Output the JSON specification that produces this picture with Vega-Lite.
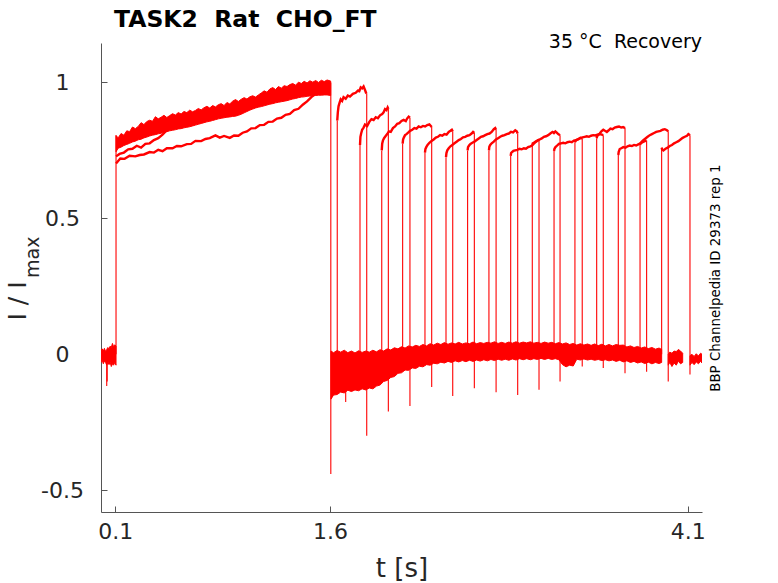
{
  "$schema": "https://vega.github.io/schema/vega-lite/v6.json",
  "width": 601,
  "height": 469,
  "autosize": {"type": "none"},
  "padding": {"left": 101, "top": 43, "right": 76, "bottom": 71},
  "background": "white",
  "config": {"view": {"stroke": null}, "font": "DejaVu Sans"},
  "datasets": {
    "bands": [
      {"seg": "pre", "t": 0.0, "v": -0.03, "v2": 0.015},
      {"seg": "pre", "t": 0.008, "v": -0.02, "v2": 0.02},
      {"seg": "pre", "t": 0.016, "v": -0.035, "v2": 0.012},
      {"seg": "pre", "t": 0.024, "v": -0.025, "v2": 0.022},
      {"seg": "pre", "t": 0.032, "v": -0.03, "v2": 0.01},
      {"seg": "pre", "t": 0.04, "v": -0.04, "v2": 0.018},
      {"seg": "pre", "t": 0.048, "v": -0.028, "v2": 0.025},
      {"seg": "pre", "t": 0.056, "v": -0.038, "v2": 0.02},
      {"seg": "pre", "t": 0.064, "v": -0.03, "v2": 0.03},
      {"seg": "pre", "t": 0.072, "v": -0.045, "v2": 0.025},
      {"seg": "pre", "t": 0.08, "v": -0.035, "v2": 0.04},
      {"seg": "pre", "t": 0.088, "v": -0.04, "v2": 0.028},
      {"seg": "pre", "t": 0.096, "v": -0.03, "v2": 0.035},
      {"seg": "pre", "t": 0.105, "v": -0.04, "v2": 0.03},

      {"seg": "p1", "t": 0.105, "v": 0.745, "v2": 0.805},
      {"seg": "p1", "t": 0.12, "v": 0.758, "v2": 0.796},
      {"seg": "p1", "t": 0.14, "v": 0.762, "v2": 0.812},
      {"seg": "p1", "t": 0.16, "v": 0.768, "v2": 0.806},
      {"seg": "p1", "t": 0.18, "v": 0.772, "v2": 0.822},
      {"seg": "p1", "t": 0.2, "v": 0.776, "v2": 0.819},
      {"seg": "p1", "t": 0.22, "v": 0.781, "v2": 0.836},
      {"seg": "p1", "t": 0.24, "v": 0.784, "v2": 0.83},
      {"seg": "p1", "t": 0.26, "v": 0.789, "v2": 0.838},
      {"seg": "p1", "t": 0.28, "v": 0.791, "v2": 0.852},
      {"seg": "p1", "t": 0.3, "v": 0.796, "v2": 0.845},
      {"seg": "p1", "t": 0.32, "v": 0.799, "v2": 0.856},
      {"seg": "p1", "t": 0.34, "v": 0.803, "v2": 0.861},
      {"seg": "p1", "t": 0.36, "v": 0.806, "v2": 0.857},
      {"seg": "p1", "t": 0.38, "v": 0.808, "v2": 0.874},
      {"seg": "p1", "t": 0.4, "v": 0.811, "v2": 0.866},
      {"seg": "p1", "t": 0.42, "v": 0.813, "v2": 0.872},
      {"seg": "p1", "t": 0.44, "v": 0.817, "v2": 0.879},
      {"seg": "p1", "t": 0.46, "v": 0.819, "v2": 0.871},
      {"seg": "p1", "t": 0.48, "v": 0.822, "v2": 0.878},
      {"seg": "p1", "t": 0.5, "v": 0.824, "v2": 0.885},
      {"seg": "p1", "t": 0.52, "v": 0.826, "v2": 0.88},
      {"seg": "p1", "t": 0.54, "v": 0.829, "v2": 0.889},
      {"seg": "p1", "t": 0.56, "v": 0.83, "v2": 0.884},
      {"seg": "p1", "t": 0.58, "v": 0.833, "v2": 0.893},
      {"seg": "p1", "t": 0.6, "v": 0.835, "v2": 0.889},
      {"seg": "p1", "t": 0.62, "v": 0.837, "v2": 0.898},
      {"seg": "p1", "t": 0.64, "v": 0.84, "v2": 0.892},
      {"seg": "p1", "t": 0.66, "v": 0.843, "v2": 0.897},
      {"seg": "p1", "t": 0.68, "v": 0.846, "v2": 0.904},
      {"seg": "p1", "t": 0.7, "v": 0.849, "v2": 0.899},
      {"seg": "p1", "t": 0.72, "v": 0.852, "v2": 0.907},
      {"seg": "p1", "t": 0.74, "v": 0.855, "v2": 0.912},
      {"seg": "p1", "t": 0.76, "v": 0.857, "v2": 0.906},
      {"seg": "p1", "t": 0.78, "v": 0.86, "v2": 0.915},
      {"seg": "p1", "t": 0.8, "v": 0.863, "v2": 0.91},
      {"seg": "p1", "t": 0.82, "v": 0.866, "v2": 0.918},
      {"seg": "p1", "t": 0.84, "v": 0.868, "v2": 0.922},
      {"seg": "p1", "t": 0.86, "v": 0.87, "v2": 0.915},
      {"seg": "p1", "t": 0.88, "v": 0.872, "v2": 0.926},
      {"seg": "p1", "t": 0.9, "v": 0.873, "v2": 0.921},
      {"seg": "p1", "t": 0.92, "v": 0.875, "v2": 0.931},
      {"seg": "p1", "t": 0.94, "v": 0.876, "v2": 0.937},
      {"seg": "p1", "t": 0.96, "v": 0.879, "v2": 0.93},
      {"seg": "p1", "t": 0.98, "v": 0.883, "v2": 0.938},
      {"seg": "p1", "t": 1.0, "v": 0.888, "v2": 0.944},
      {"seg": "p1", "t": 1.02, "v": 0.893, "v2": 0.939},
      {"seg": "p1", "t": 1.04, "v": 0.898, "v2": 0.947},
      {"seg": "p1", "t": 1.06, "v": 0.902, "v2": 0.951},
      {"seg": "p1", "t": 1.08, "v": 0.906, "v2": 0.946},
      {"seg": "p1", "t": 1.1, "v": 0.909, "v2": 0.954},
      {"seg": "p1", "t": 1.12, "v": 0.911, "v2": 0.961},
      {"seg": "p1", "t": 1.14, "v": 0.914, "v2": 0.969},
      {"seg": "p1", "t": 1.16, "v": 0.917, "v2": 0.964},
      {"seg": "p1", "t": 1.18, "v": 0.92, "v2": 0.976},
      {"seg": "p1", "t": 1.2, "v": 0.922, "v2": 0.981},
      {"seg": "p1", "t": 1.22, "v": 0.925, "v2": 0.974},
      {"seg": "p1", "t": 1.24, "v": 0.927, "v2": 0.985},
      {"seg": "p1", "t": 1.26, "v": 0.929, "v2": 0.979},
      {"seg": "p1", "t": 1.28, "v": 0.931, "v2": 0.988},
      {"seg": "p1", "t": 1.3, "v": 0.933, "v2": 0.985},
      {"seg": "p1", "t": 1.32, "v": 0.936, "v2": 0.992},
      {"seg": "p1", "t": 1.34, "v": 0.939, "v2": 0.996},
      {"seg": "p1", "t": 1.36, "v": 0.941, "v2": 0.99},
      {"seg": "p1", "t": 1.38, "v": 0.944, "v2": 1.001},
      {"seg": "p1", "t": 1.4, "v": 0.946, "v2": 0.996},
      {"seg": "p1", "t": 1.42, "v": 0.947, "v2": 1.004},
      {"seg": "p1", "t": 1.44, "v": 0.949, "v2": 0.998},
      {"seg": "p1", "t": 1.46, "v": 0.95, "v2": 1.006},
      {"seg": "p1", "t": 1.48, "v": 0.951, "v2": 1.001},
      {"seg": "p1", "t": 1.5, "v": 0.952, "v2": 1.007},
      {"seg": "p1", "t": 1.52, "v": 0.953, "v2": 1.0},
      {"seg": "p1", "t": 1.54, "v": 0.953, "v2": 1.008},
      {"seg": "p1", "t": 1.56, "v": 0.954, "v2": 1.003},
      {"seg": "p1", "t": 1.58, "v": 0.954, "v2": 1.009},
      {"seg": "p1", "t": 1.605, "v": 0.952, "v2": 1.005},

      {"seg": "post", "t": 1.607, "v": -0.165, "v2": 0.012},
      {"seg": "post", "t": 1.625, "v": -0.15, "v2": 0.006},
      {"seg": "post", "t": 1.65, "v": -0.148, "v2": 0.014},
      {"seg": "post", "t": 1.675, "v": -0.139, "v2": 0.008},
      {"seg": "post", "t": 1.7, "v": -0.142, "v2": 0.015},
      {"seg": "post", "t": 1.725, "v": -0.132, "v2": 0.006},
      {"seg": "post", "t": 1.75, "v": -0.137, "v2": 0.012},
      {"seg": "post", "t": 1.775, "v": -0.131, "v2": 0.005},
      {"seg": "post", "t": 1.8, "v": -0.134, "v2": 0.013},
      {"seg": "post", "t": 1.825, "v": -0.127, "v2": 0.007},
      {"seg": "post", "t": 1.85, "v": -0.131, "v2": 0.012},
      {"seg": "post", "t": 1.875, "v": -0.124, "v2": 0.008},
      {"seg": "post", "t": 1.9, "v": -0.127, "v2": 0.015},
      {"seg": "post", "t": 1.925, "v": -0.117, "v2": 0.009},
      {"seg": "post", "t": 1.95, "v": -0.113, "v2": 0.017},
      {"seg": "post", "t": 1.975, "v": -0.1, "v2": 0.012},
      {"seg": "post", "t": 2.0, "v": -0.096, "v2": 0.02},
      {"seg": "post", "t": 2.025, "v": -0.085, "v2": 0.016},
      {"seg": "post", "t": 2.05, "v": -0.082, "v2": 0.024},
      {"seg": "post", "t": 2.075, "v": -0.07, "v2": 0.02},
      {"seg": "post", "t": 2.1, "v": -0.068, "v2": 0.028},
      {"seg": "post", "t": 2.125, "v": -0.058, "v2": 0.023},
      {"seg": "post", "t": 2.15, "v": -0.059, "v2": 0.031},
      {"seg": "post", "t": 2.175, "v": -0.05, "v2": 0.027},
      {"seg": "post", "t": 2.2, "v": -0.052, "v2": 0.033},
      {"seg": "post", "t": 2.225, "v": -0.044, "v2": 0.029},
      {"seg": "post", "t": 2.25, "v": -0.046, "v2": 0.036},
      {"seg": "post", "t": 2.275, "v": -0.038, "v2": 0.031},
      {"seg": "post", "t": 2.3, "v": -0.04, "v2": 0.039},
      {"seg": "post", "t": 2.325, "v": -0.033, "v2": 0.034},
      {"seg": "post", "t": 2.35, "v": -0.035, "v2": 0.041},
      {"seg": "post", "t": 2.375, "v": -0.029, "v2": 0.036},
      {"seg": "post", "t": 2.4, "v": -0.032, "v2": 0.043},
      {"seg": "post", "t": 2.425, "v": -0.026, "v2": 0.037},
      {"seg": "post", "t": 2.45, "v": -0.03, "v2": 0.042},
      {"seg": "post", "t": 2.475, "v": -0.024, "v2": 0.038},
      {"seg": "post", "t": 2.5, "v": -0.028, "v2": 0.044},
      {"seg": "post", "t": 2.525, "v": -0.023, "v2": 0.038},
      {"seg": "post", "t": 2.55, "v": -0.027, "v2": 0.042},
      {"seg": "post", "t": 2.575, "v": -0.022, "v2": 0.039},
      {"seg": "post", "t": 2.6, "v": -0.026, "v2": 0.045},
      {"seg": "post", "t": 2.625, "v": -0.021, "v2": 0.039},
      {"seg": "post", "t": 2.65, "v": -0.025, "v2": 0.043},
      {"seg": "post", "t": 2.675, "v": -0.02, "v2": 0.04},
      {"seg": "post", "t": 2.7, "v": -0.024, "v2": 0.044},
      {"seg": "post", "t": 2.725, "v": -0.019, "v2": 0.041},
      {"seg": "post", "t": 2.75, "v": -0.023, "v2": 0.046},
      {"seg": "post", "t": 2.775, "v": -0.018, "v2": 0.04},
      {"seg": "post", "t": 2.8, "v": -0.022, "v2": 0.044},
      {"seg": "post", "t": 2.825, "v": -0.018, "v2": 0.04},
      {"seg": "post", "t": 2.85, "v": -0.022, "v2": 0.045},
      {"seg": "post", "t": 2.875, "v": -0.017, "v2": 0.041},
      {"seg": "post", "t": 2.9, "v": -0.021, "v2": 0.046},
      {"seg": "post", "t": 2.925, "v": -0.016, "v2": 0.041},
      {"seg": "post", "t": 2.95, "v": -0.02, "v2": 0.045},
      {"seg": "post", "t": 2.975, "v": -0.016, "v2": 0.042},
      {"seg": "post", "t": 3.0, "v": -0.02, "v2": 0.046},
      {"seg": "post", "t": 3.025, "v": -0.016, "v2": 0.041},
      {"seg": "post", "t": 3.05, "v": -0.019, "v2": 0.044},
      {"seg": "post", "t": 3.075, "v": -0.015, "v2": 0.04},
      {"seg": "post", "t": 3.1, "v": -0.019, "v2": 0.045},
      {"seg": "post", "t": 3.125, "v": -0.015, "v2": 0.041},
      {"seg": "post", "t": 3.15, "v": -0.019, "v2": 0.044},
      {"seg": "post", "t": 3.175, "v": -0.016, "v2": 0.039},
      {"seg": "post", "t": 3.2, "v": -0.02, "v2": 0.043},
      {"seg": "post", "t": 3.225, "v": -0.038, "v2": 0.038},
      {"seg": "post", "t": 3.25, "v": -0.046, "v2": 0.042},
      {"seg": "post", "t": 3.275, "v": -0.04, "v2": 0.036},
      {"seg": "post", "t": 3.3, "v": -0.043, "v2": 0.04},
      {"seg": "post", "t": 3.325, "v": -0.018, "v2": 0.034},
      {"seg": "post", "t": 3.35, "v": -0.021, "v2": 0.039},
      {"seg": "post", "t": 3.375, "v": -0.017, "v2": 0.034},
      {"seg": "post", "t": 3.4, "v": -0.021, "v2": 0.038},
      {"seg": "post", "t": 3.425, "v": -0.018, "v2": 0.033},
      {"seg": "post", "t": 3.45, "v": -0.022, "v2": 0.038},
      {"seg": "post", "t": 3.475, "v": -0.019, "v2": 0.032},
      {"seg": "post", "t": 3.5, "v": -0.023, "v2": 0.037},
      {"seg": "post", "t": 3.525, "v": -0.02, "v2": 0.031},
      {"seg": "post", "t": 3.55, "v": -0.024, "v2": 0.036},
      {"seg": "post", "t": 3.575, "v": -0.021, "v2": 0.031},
      {"seg": "post", "t": 3.6, "v": -0.026, "v2": 0.036},
      {"seg": "post", "t": 3.625, "v": -0.022, "v2": 0.033},
      {"seg": "post", "t": 3.65, "v": -0.028, "v2": 0.034},
      {"seg": "post", "t": 3.675, "v": -0.024, "v2": 0.027},
      {"seg": "post", "t": 3.7, "v": -0.03, "v2": 0.031},
      {"seg": "post", "t": 3.725, "v": -0.026, "v2": 0.025},
      {"seg": "post", "t": 3.75, "v": -0.032, "v2": 0.029},
      {"seg": "post", "t": 3.775, "v": -0.028, "v2": 0.023},
      {"seg": "post", "t": 3.8, "v": -0.034, "v2": 0.027},
      {"seg": "post", "t": 3.825, "v": -0.029, "v2": 0.021},
      {"seg": "post", "t": 3.85, "v": -0.035, "v2": 0.025},
      {"seg": "post", "t": 3.875, "v": -0.03, "v2": 0.019},
      {"seg": "post", "t": 3.9, "v": -0.034, "v2": 0.023},
      {"seg": "post", "t": 3.918, "v": -0.03, "v2": 0.018},

      {"seg": "tail15", "t": 3.964, "v": -0.04, "v2": 0.0},
      {"seg": "tail15", "t": 3.975, "v": -0.03, "v2": 0.008},
      {"seg": "tail15", "t": 3.99, "v": -0.045, "v2": 0.004},
      {"seg": "tail15", "t": 4.005, "v": -0.032, "v2": 0.012},
      {"seg": "tail15", "t": 4.02, "v": -0.04, "v2": 0.01},
      {"seg": "tail15", "t": 4.035, "v": -0.025, "v2": 0.018},
      {"seg": "tail15", "t": 4.05, "v": -0.035, "v2": 0.012},
      {"seg": "tail15", "t": 4.065, "v": -0.03, "v2": 0.004},

      {"seg": "tail16", "t": 4.116, "v": -0.04, "v2": -0.005},
      {"seg": "tail16", "t": 4.13, "v": -0.03, "v2": 0.0},
      {"seg": "tail16", "t": 4.145, "v": -0.038, "v2": -0.008},
      {"seg": "tail16", "t": 4.16, "v": -0.028, "v2": 0.002},
      {"seg": "tail16", "t": 4.175, "v": -0.035, "v2": -0.006},
      {"seg": "tail16", "t": 4.19, "v": -0.025, "v2": 0.004},
      {"seg": "tail16", "t": 4.2, "v": -0.032, "v2": 0.0}
    ],
    "traces": [
      {"id": "L1", "t": 0.105, "v": 0.728}, {"id": "L1", "t": 0.13, "v": 0.737}, {"id": "L1", "t": 0.16, "v": 0.742},
      {"id": "L1", "t": 0.19, "v": 0.754}, {"id": "L1", "t": 0.22, "v": 0.756}, {"id": "L1", "t": 0.25, "v": 0.767},
      {"id": "L1", "t": 0.28, "v": 0.76}, {"id": "L1", "t": 0.31, "v": 0.774}, {"id": "L1", "t": 0.34, "v": 0.776},
      {"id": "L1", "t": 0.37, "v": 0.788}, {"id": "L1", "t": 0.4, "v": 0.795}, {"id": "L1", "t": 0.43, "v": 0.808},
      {"id": "L1", "t": 0.46, "v": 0.824},

      {"id": "L2", "t": 0.105, "v": 0.702}, {"id": "L2", "t": 0.135, "v": 0.72}, {"id": "L2", "t": 0.165, "v": 0.719},
      {"id": "L2", "t": 0.2, "v": 0.73}, {"id": "L2", "t": 0.24, "v": 0.728}, {"id": "L2", "t": 0.27, "v": 0.733},
      {"id": "L2", "t": 0.3, "v": 0.735}, {"id": "L2", "t": 0.34, "v": 0.744}, {"id": "L2", "t": 0.37, "v": 0.742},
      {"id": "L2", "t": 0.4, "v": 0.752}, {"id": "L2", "t": 0.43, "v": 0.747}, {"id": "L2", "t": 0.46, "v": 0.758},
      {"id": "L2", "t": 0.5, "v": 0.758}, {"id": "L2", "t": 0.53, "v": 0.766}, {"id": "L2", "t": 0.56, "v": 0.765},
      {"id": "L2", "t": 0.6, "v": 0.773}, {"id": "L2", "t": 0.63, "v": 0.774}, {"id": "L2", "t": 0.66, "v": 0.785},
      {"id": "L2", "t": 0.7, "v": 0.784}, {"id": "L2", "t": 0.73, "v": 0.792}, {"id": "L2", "t": 0.76, "v": 0.795},
      {"id": "L2", "t": 0.8, "v": 0.805}, {"id": "L2", "t": 0.83, "v": 0.797}, {"id": "L2", "t": 0.86, "v": 0.803},
      {"id": "L2", "t": 0.9, "v": 0.796}, {"id": "L2", "t": 0.93, "v": 0.805}, {"id": "L2", "t": 0.96, "v": 0.804},
      {"id": "L2", "t": 0.99, "v": 0.815}, {"id": "L2", "t": 1.02, "v": 0.82}, {"id": "L2", "t": 1.05, "v": 0.831},
      {"id": "L2", "t": 1.08, "v": 0.832}, {"id": "L2", "t": 1.11, "v": 0.843}, {"id": "L2", "t": 1.14, "v": 0.844},
      {"id": "L2", "t": 1.17, "v": 0.855}, {"id": "L2", "t": 1.2, "v": 0.856}, {"id": "L2", "t": 1.23, "v": 0.867},
      {"id": "L2", "t": 1.26, "v": 0.87}, {"id": "L2", "t": 1.29, "v": 0.881}, {"id": "L2", "t": 1.32, "v": 0.884},
      {"id": "L2", "t": 1.35, "v": 0.898}, {"id": "L2", "t": 1.38, "v": 0.903}, {"id": "L2", "t": 1.41, "v": 0.918},
      {"id": "L2", "t": 1.44, "v": 0.93}, {"id": "L2", "t": 1.47, "v": 0.946}, {"id": "L2", "t": 1.5, "v": 0.958},

      {"id": "s0", "t": 1.651, "v": 0.86}, {"id": "s0", "t": 1.655, "v": 0.89},
      {"id": "s0", "t": 1.66, "v": 0.912}, {"id": "s0", "t": 1.667, "v": 0.925}, {"id": "s0", "t": 1.675, "v": 0.938},
      {"id": "s0", "t": 1.685, "v": 0.932}, {"id": "s0", "t": 1.695, "v": 0.946}, {"id": "s0", "t": 1.71, "v": 0.94},
      {"id": "s0", "t": 1.725, "v": 0.952}, {"id": "s0", "t": 1.74, "v": 0.948}, {"id": "s0", "t": 1.76, "v": 0.958},
      {"id": "s0", "t": 1.78, "v": 0.962}, {"id": "s0", "t": 1.795, "v": 0.97}, {"id": "s0", "t": 1.805, "v": 0.968},
      {"id": "s0", "t": 1.815, "v": 0.982}, {"id": "s0", "t": 1.825, "v": 0.978}, {"id": "s0", "t": 1.835, "v": 0.985},
      {"id": "s0", "t": 1.845, "v": 0.972}, {"id": "s0", "t": 1.852, "v": 0.962}, {"id": "s0", "t": 1.857, "v": 0.96},

      {"id": "s1", "t": 1.81, "v": 0.77}, {"id": "s1", "t": 1.813, "v": 0.8},
      {"id": "s1", "t": 1.818, "v": 0.812}, {"id": "s1", "t": 1.825, "v": 0.826}, {"id": "s1", "t": 1.835, "v": 0.834},
      {"id": "s1", "t": 1.845, "v": 0.845}, {"id": "s1", "t": 1.86, "v": 0.84}, {"id": "s1", "t": 1.875, "v": 0.855},
      {"id": "s1", "t": 1.89, "v": 0.865}, {"id": "s1", "t": 1.905, "v": 0.862}, {"id": "s1", "t": 1.92, "v": 0.872},
      {"id": "s1", "t": 1.935, "v": 0.868}, {"id": "s1", "t": 1.95, "v": 0.879}, {"id": "s1", "t": 1.965, "v": 0.884},
      {"id": "s1", "t": 1.975, "v": 0.89}, {"id": "s1", "t": 1.985, "v": 0.902}, {"id": "s1", "t": 1.995, "v": 0.898},
      {"id": "s1", "t": 2.003, "v": 0.908}, {"id": "s1", "t": 2.008, "v": 0.902},

      {"id": "s2", "t": 1.962, "v": 0.75}, {"id": "s2", "t": 1.965, "v": 0.775},
      {"id": "s2", "t": 1.97, "v": 0.786}, {"id": "s2", "t": 1.978, "v": 0.795}, {"id": "s2", "t": 1.988, "v": 0.802},
      {"id": "s2", "t": 2.0, "v": 0.81}, {"id": "s2", "t": 2.012, "v": 0.82}, {"id": "s2", "t": 2.025, "v": 0.818},
      {"id": "s2", "t": 2.04, "v": 0.832}, {"id": "s2", "t": 2.055, "v": 0.838}, {"id": "s2", "t": 2.07, "v": 0.848},
      {"id": "s2", "t": 2.085, "v": 0.85}, {"id": "s2", "t": 2.1, "v": 0.858}, {"id": "s2", "t": 2.115, "v": 0.862},
      {"id": "s2", "t": 2.13, "v": 0.858}, {"id": "s2", "t": 2.14, "v": 0.868}, {"id": "s2", "t": 2.15, "v": 0.874},
      {"id": "s2", "t": 2.159, "v": 0.87},

      {"id": "s3", "t": 2.108, "v": 0.775}, {"id": "s3", "t": 2.111, "v": 0.79},
      {"id": "s3", "t": 2.117, "v": 0.798}, {"id": "s3", "t": 2.125, "v": 0.806}, {"id": "s3", "t": 2.135, "v": 0.81},
      {"id": "s3", "t": 2.148, "v": 0.816}, {"id": "s3", "t": 2.16, "v": 0.822}, {"id": "s3", "t": 2.175, "v": 0.826},
      {"id": "s3", "t": 2.19, "v": 0.832}, {"id": "s3", "t": 2.205, "v": 0.83}, {"id": "s3", "t": 2.22, "v": 0.838},
      {"id": "s3", "t": 2.235, "v": 0.835}, {"id": "s3", "t": 2.25, "v": 0.84}, {"id": "s3", "t": 2.265, "v": 0.838},
      {"id": "s3", "t": 2.28, "v": 0.843}, {"id": "s3", "t": 2.295, "v": 0.846}, {"id": "s3", "t": 2.305, "v": 0.84},
      {"id": "s3", "t": 2.311, "v": 0.836},

      {"id": "s4", "t": 2.264, "v": 0.742}, {"id": "s4", "t": 2.267, "v": 0.755},
      {"id": "s4", "t": 2.273, "v": 0.762}, {"id": "s4", "t": 2.282, "v": 0.77}, {"id": "s4", "t": 2.295, "v": 0.778},
      {"id": "s4", "t": 2.31, "v": 0.785}, {"id": "s4", "t": 2.325, "v": 0.79}, {"id": "s4", "t": 2.34, "v": 0.797},
      {"id": "s4", "t": 2.355, "v": 0.8}, {"id": "s4", "t": 2.37, "v": 0.806}, {"id": "s4", "t": 2.385, "v": 0.804},
      {"id": "s4", "t": 2.4, "v": 0.81}, {"id": "s4", "t": 2.415, "v": 0.808}, {"id": "s4", "t": 2.43, "v": 0.818},
      {"id": "s4", "t": 2.442, "v": 0.822}, {"id": "s4", "t": 2.452, "v": 0.826}, {"id": "s4", "t": 2.458, "v": 0.82},

      {"id": "s5", "t": 2.411, "v": 0.725}, {"id": "s5", "t": 2.414, "v": 0.74},
      {"id": "s5", "t": 2.42, "v": 0.75}, {"id": "s5", "t": 2.43, "v": 0.758}, {"id": "s5", "t": 2.442, "v": 0.765},
      {"id": "s5", "t": 2.455, "v": 0.77}, {"id": "s5", "t": 2.47, "v": 0.776}, {"id": "s5", "t": 2.485, "v": 0.782},
      {"id": "s5", "t": 2.5, "v": 0.788}, {"id": "s5", "t": 2.515, "v": 0.792}, {"id": "s5", "t": 2.53, "v": 0.798},
      {"id": "s5", "t": 2.545, "v": 0.8}, {"id": "s5", "t": 2.56, "v": 0.804}, {"id": "s5", "t": 2.575, "v": 0.806},
      {"id": "s5", "t": 2.59, "v": 0.812}, {"id": "s5", "t": 2.6, "v": 0.818}, {"id": "s5", "t": 2.609, "v": 0.814},

      {"id": "s6", "t": 2.562, "v": 0.75}, {"id": "s6", "t": 2.565, "v": 0.762},
      {"id": "s6", "t": 2.572, "v": 0.768}, {"id": "s6", "t": 2.582, "v": 0.774}, {"id": "s6", "t": 2.595, "v": 0.778},
      {"id": "s6", "t": 2.61, "v": 0.782}, {"id": "s6", "t": 2.625, "v": 0.788}, {"id": "s6", "t": 2.64, "v": 0.794},
      {"id": "s6", "t": 2.655, "v": 0.8}, {"id": "s6", "t": 2.67, "v": 0.802}, {"id": "s6", "t": 2.685, "v": 0.806},
      {"id": "s6", "t": 2.7, "v": 0.81}, {"id": "s6", "t": 2.715, "v": 0.812}, {"id": "s6", "t": 2.73, "v": 0.818},
      {"id": "s6", "t": 2.745, "v": 0.828}, {"id": "s6", "t": 2.755, "v": 0.832}, {"id": "s6", "t": 2.761, "v": 0.826},

      {"id": "s7", "t": 2.711, "v": 0.75}, {"id": "s7", "t": 2.714, "v": 0.764},
      {"id": "s7", "t": 2.72, "v": 0.77}, {"id": "s7", "t": 2.73, "v": 0.776}, {"id": "s7", "t": 2.745, "v": 0.782},
      {"id": "s7", "t": 2.76, "v": 0.79}, {"id": "s7", "t": 2.775, "v": 0.795}, {"id": "s7", "t": 2.79, "v": 0.8},
      {"id": "s7", "t": 2.805, "v": 0.804}, {"id": "s7", "t": 2.82, "v": 0.806}, {"id": "s7", "t": 2.835, "v": 0.81},
      {"id": "s7", "t": 2.85, "v": 0.812}, {"id": "s7", "t": 2.865, "v": 0.818}, {"id": "s7", "t": 2.88, "v": 0.816},
      {"id": "s7", "t": 2.895, "v": 0.824}, {"id": "s7", "t": 2.905, "v": 0.82}, {"id": "s7", "t": 2.912, "v": 0.812},

      {"id": "s8", "t": 2.863, "v": 0.73}, {"id": "s8", "t": 2.866, "v": 0.74},
      {"id": "s8", "t": 2.872, "v": 0.744}, {"id": "s8", "t": 2.882, "v": 0.748}, {"id": "s8", "t": 2.895, "v": 0.75},
      {"id": "s8", "t": 2.91, "v": 0.752}, {"id": "s8", "t": 2.925, "v": 0.756}, {"id": "s8", "t": 2.94, "v": 0.754},
      {"id": "s8", "t": 2.955, "v": 0.758}, {"id": "s8", "t": 2.97, "v": 0.756}, {"id": "s8", "t": 2.985, "v": 0.762},
      {"id": "s8", "t": 3.0, "v": 0.765}, {"id": "s8", "t": 3.012, "v": 0.768}, {"id": "s8", "t": 3.025, "v": 0.775},
      {"id": "s8", "t": 3.04, "v": 0.782}, {"id": "s8", "t": 3.05, "v": 0.786}, {"id": "s8", "t": 3.061, "v": 0.79},

      {"id": "s9", "t": 3.014, "v": 0.77}, {"id": "s9", "t": 3.017, "v": 0.776},
      {"id": "s9", "t": 3.025, "v": 0.778}, {"id": "s9", "t": 3.035, "v": 0.782}, {"id": "s9", "t": 3.05, "v": 0.786},
      {"id": "s9", "t": 3.065, "v": 0.79}, {"id": "s9", "t": 3.08, "v": 0.794}, {"id": "s9", "t": 3.095, "v": 0.8},
      {"id": "s9", "t": 3.11, "v": 0.802}, {"id": "s9", "t": 3.125, "v": 0.806}, {"id": "s9", "t": 3.14, "v": 0.812},
      {"id": "s9", "t": 3.155, "v": 0.818}, {"id": "s9", "t": 3.165, "v": 0.814}, {"id": "s9", "t": 3.175, "v": 0.82},
      {"id": "s9", "t": 3.185, "v": 0.815}, {"id": "s9", "t": 3.195, "v": 0.81}, {"id": "s9", "t": 3.208, "v": 0.806},

      {"id": "s10", "t": 3.166, "v": 0.748}, {"id": "s10", "t": 3.169, "v": 0.756},
      {"id": "s10", "t": 3.176, "v": 0.762}, {"id": "s10", "t": 3.188, "v": 0.768}, {"id": "s10", "t": 3.2, "v": 0.774},
      {"id": "s10", "t": 3.215, "v": 0.776}, {"id": "s10", "t": 3.23, "v": 0.778}, {"id": "s10", "t": 3.245, "v": 0.776},
      {"id": "s10", "t": 3.26, "v": 0.78}, {"id": "s10", "t": 3.275, "v": 0.782}, {"id": "s10", "t": 3.29, "v": 0.78},
      {"id": "s10", "t": 3.305, "v": 0.786}, {"id": "s10", "t": 3.32, "v": 0.788}, {"id": "s10", "t": 3.335, "v": 0.79},
      {"id": "s10", "t": 3.35, "v": 0.796}, {"id": "s10", "t": 3.363, "v": 0.794},

      {"id": "s11", "t": 3.312, "v": 0.78}, {"id": "s11", "t": 3.315, "v": 0.784},
      {"id": "s11", "t": 3.322, "v": 0.788}, {"id": "s11", "t": 3.335, "v": 0.792}, {"id": "s11", "t": 3.35, "v": 0.795},
      {"id": "s11", "t": 3.365, "v": 0.798}, {"id": "s11", "t": 3.38, "v": 0.8}, {"id": "s11", "t": 3.395, "v": 0.802},
      {"id": "s11", "t": 3.41, "v": 0.8}, {"id": "s11", "t": 3.425, "v": 0.804}, {"id": "s11", "t": 3.44, "v": 0.806},
      {"id": "s11", "t": 3.455, "v": 0.805}, {"id": "s11", "t": 3.47, "v": 0.808}, {"id": "s11", "t": 3.485, "v": 0.81},
      {"id": "s11", "t": 3.5, "v": 0.808}, {"id": "s11", "t": 3.51, "v": 0.806},

      {"id": "s12", "t": 3.464, "v": 0.795}, {"id": "s12", "t": 3.467, "v": 0.802},
      {"id": "s12", "t": 3.474, "v": 0.806}, {"id": "s12", "t": 3.485, "v": 0.812}, {"id": "s12", "t": 3.497, "v": 0.82},
      {"id": "s12", "t": 3.51, "v": 0.826}, {"id": "s12", "t": 3.522, "v": 0.822}, {"id": "s12", "t": 3.535, "v": 0.818},
      {"id": "s12", "t": 3.548, "v": 0.824}, {"id": "s12", "t": 3.56, "v": 0.83}, {"id": "s12", "t": 3.575, "v": 0.828},
      {"id": "s12", "t": 3.59, "v": 0.834}, {"id": "s12", "t": 3.605, "v": 0.836}, {"id": "s12", "t": 3.62, "v": 0.838},
      {"id": "s12", "t": 3.635, "v": 0.834}, {"id": "s12", "t": 3.648, "v": 0.836}, {"id": "s12", "t": 3.662, "v": 0.832},

      {"id": "s13", "t": 3.615, "v": 0.733}, {"id": "s13", "t": 3.618, "v": 0.745},
      {"id": "s13", "t": 3.625, "v": 0.755}, {"id": "s13", "t": 3.636, "v": 0.758}, {"id": "s13", "t": 3.65, "v": 0.762},
      {"id": "s13", "t": 3.665, "v": 0.76}, {"id": "s13", "t": 3.68, "v": 0.765}, {"id": "s13", "t": 3.695, "v": 0.768},
      {"id": "s13", "t": 3.71, "v": 0.766}, {"id": "s13", "t": 3.725, "v": 0.77}, {"id": "s13", "t": 3.74, "v": 0.768},
      {"id": "s13", "t": 3.755, "v": 0.772}, {"id": "s13", "t": 3.77, "v": 0.776}, {"id": "s13", "t": 3.785, "v": 0.78},
      {"id": "s13", "t": 3.8, "v": 0.784}, {"id": "s13", "t": 3.813, "v": 0.786},

      {"id": "s14", "t": 3.767, "v": 0.77}, {"id": "s14", "t": 3.77, "v": 0.776},
      {"id": "s14", "t": 3.778, "v": 0.782}, {"id": "s14", "t": 3.79, "v": 0.788}, {"id": "s14", "t": 3.805, "v": 0.794},
      {"id": "s14", "t": 3.82, "v": 0.8}, {"id": "s14", "t": 3.835, "v": 0.806}, {"id": "s14", "t": 3.85, "v": 0.81},
      {"id": "s14", "t": 3.865, "v": 0.814}, {"id": "s14", "t": 3.88, "v": 0.818}, {"id": "s14", "t": 3.895, "v": 0.82},
      {"id": "s14", "t": 3.91, "v": 0.822}, {"id": "s14", "t": 3.925, "v": 0.826}, {"id": "s14", "t": 3.94, "v": 0.828},
      {"id": "s14", "t": 3.955, "v": 0.824}, {"id": "s14", "t": 3.964, "v": 0.82},

      {"id": "s15", "t": 3.918, "v": 0.76}, {"id": "s15", "t": 3.921, "v": 0.754},
      {"id": "s15", "t": 3.93, "v": 0.75}, {"id": "s15", "t": 3.945, "v": 0.756}, {"id": "s15", "t": 3.96, "v": 0.76},
      {"id": "s15", "t": 3.975, "v": 0.766}, {"id": "s15", "t": 3.99, "v": 0.77}, {"id": "s15", "t": 4.005, "v": 0.776},
      {"id": "s15", "t": 4.02, "v": 0.78}, {"id": "s15", "t": 4.035, "v": 0.784}, {"id": "s15", "t": 4.05, "v": 0.79},
      {"id": "s15", "t": 4.065, "v": 0.796}, {"id": "s15", "t": 4.08, "v": 0.8}, {"id": "s15", "t": 4.095, "v": 0.804},
      {"id": "s15", "t": 4.105, "v": 0.81}, {"id": "s15", "t": 4.116, "v": 0.806}
    ],
    "edges": [
      {"t": 0.105, "v": 0.0, "v2": 0.805},
      {"t": 0.04, "v": -0.02, "v2": -0.117},
      {"t": 0.043, "v": -0.02, "v2": -0.1},
      {"t": 1.606, "v": 1.0, "v2": -0.44},
      {"t": 1.71, "v": -0.05, "v2": -0.175},
      {"t": 1.651, "v": 0.0, "v2": 0.86}, {"t": 1.857, "v": 0.96, "v2": -0.3},
      {"t": 1.81, "v": 0.0, "v2": 0.77}, {"t": 2.008, "v": 0.902, "v2": -0.21},
      {"t": 1.962, "v": 0.0, "v2": 0.75}, {"t": 2.159, "v": 0.87, "v2": -0.19},
      {"t": 2.108, "v": 0.0, "v2": 0.775}, {"t": 2.311, "v": 0.836, "v2": -0.12},
      {"t": 2.264, "v": 0.0, "v2": 0.742}, {"t": 2.458, "v": 0.82, "v2": -0.153},
      {"t": 2.411, "v": 0.0, "v2": 0.725}, {"t": 2.609, "v": 0.814, "v2": -0.125},
      {"t": 2.562, "v": 0.0, "v2": 0.75}, {"t": 2.761, "v": 0.826, "v2": -0.14},
      {"t": 2.711, "v": 0.0, "v2": 0.75}, {"t": 2.912, "v": 0.812, "v2": -0.15},
      {"t": 2.863, "v": 0.0, "v2": 0.73}, {"t": 3.061, "v": 0.79, "v2": -0.13},
      {"t": 3.014, "v": 0.0, "v2": 0.77}, {"t": 3.208, "v": 0.806, "v2": -0.1},
      {"t": 3.166, "v": 0.0, "v2": 0.748}, {"t": 3.363, "v": 0.794, "v2": -0.045},
      {"t": 3.312, "v": 0.0, "v2": 0.78}, {"t": 3.51, "v": 0.806, "v2": -0.05},
      {"t": 3.464, "v": 0.0, "v2": 0.795}, {"t": 3.662, "v": 0.832, "v2": -0.07},
      {"t": 3.615, "v": 0.0, "v2": 0.733}, {"t": 3.813, "v": 0.786, "v2": -0.064},
      {"t": 3.767, "v": 0.0, "v2": 0.77}, {"t": 3.964, "v": 0.82, "v2": -0.1},
      {"t": 3.918, "v": 0.0, "v2": 0.76}, {"t": 4.116, "v": 0.806, "v2": -0.074}
    ]
  },
  "layer": [
    {
      "data": {"name": "bands"},
      "mark": {"type": "area", "color": "#ff0000", "stroke": "#ff0000", "strokeWidth": 1, "clip": true},
      "encoding": {
        "x": {
          "field": "t",
          "type": "quantitative",
          "scale": {"domain": [0, 4.2], "nice": false, "zero": false},
          "axis": {
            "values": [0.1, 1.6, 4.1],
            "format": ".1f",
            "title": "t [s]",
            "titleFontSize": 26,
            "titleFontWeight": "normal",
            "titleColor": "#262626",
            "titleY": 64,
            "titleBaseline": "alphabetic",
            "labelFontSize": 22,
            "labelColor": "#262626",
            "labelFlush": false,
            "labelPadding": 15,
            "tickSize": -6,
            "tickColor": "#555555",
            "domainColor": "#555555",
            "grid": false
          }
        },
        "y": {
          "field": "v",
          "type": "quantitative",
          "scale": {"domain": [-0.58, 1.145], "nice": false, "zero": false},
          "axis": {
            "values": [-0.5, 0, 0.5, 1],
            "labelExpr": "datum.value < 0 ? '-' + format(-datum.value, '~g') : format(datum.value, '~g')",
            "title": "I / I",
            "titleFontSize": 25,
            "titleFontWeight": "normal",
            "titleColor": "#262626",
            "titleX": -76,
            "titleY": 277,
            "titleAngle": 270,
            "titleAlign": "left",
            "titleBaseline": "alphabetic",
            "labelFontSize": 22,
            "labelColor": "#262626",
            "labelAlign": "center",
            "labelPadding": 45,
            "tickSize": -6,
            "tickColor": "#555555",
            "domainColor": "#555555",
            "grid": false
          }
        },
        "y2": {"field": "v2"},
        "detail": {"field": "seg"}
      }
    },
    {
      "data": {"name": "traces"},
      "mark": {"type": "line", "color": "#ff0000", "strokeWidth": 2.4, "clip": true},
      "encoding": {
        "x": {"field": "t", "type": "quantitative"},
        "y": {"field": "v", "type": "quantitative"},
        "detail": {"field": "id"},
        "order": {"value": null}
      }
    },
    {
      "data": {"name": "edges"},
      "mark": {"type": "rule", "color": "#ff0000", "strokeWidth": 1.1, "clip": true},
      "encoding": {
        "x": {"field": "t", "type": "quantitative"},
        "y": {"field": "v", "type": "quantitative"},
        "y2": {"field": "v2"}
      }
    },
    {
      "data": {"values": [{"label": "max"}]},
      "mark": {"type": "text", "angle": 270, "align": "left", "baseline": "alphabetic", "dy": -62, "fontSize": 19, "font": "DejaVu Sans", "fill": "#262626"},
      "encoding": {"x": {"datum": 0}, "y": {"datum": 0.2806}, "text": {"field": "label"}}
    },
    {
      "data": {"values": [{"label": "TASK2\u00a0\u00a0Rat\u00a0\u00a0CHO_FT"}]},
      "mark": {"type": "text", "align": "left", "baseline": "alphabetic", "dx": 13, "dy": -16.3, "fontSize": 23.5, "fontWeight": "bold", "font": "DejaVu Sans", "fill": "#000000"},
      "encoding": {"x": {"datum": 0}, "y": {"datum": 1.145}, "text": {"field": "label"}}
    },
    {
      "data": {"values": [{"label": "35 °C\u00a0\u00a0Recovery"}]},
      "mark": {"type": "text", "align": "right", "baseline": "alphabetic", "dy": 5, "fontSize": 19, "font": "DejaVu Sans", "fill": "#000000"},
      "encoding": {"x": {"datum": 4.2}, "y": {"datum": 1.145}, "text": {"field": "label"}}
    },
    {
      "data": {"values": [{"label": "BBP Channelpedia ID 29373 rep 1"}]},
      "mark": {"type": "text", "angle": 270, "align": "center", "baseline": "middle", "dy": 14, "fontSize": 13.4, "font": "DejaVu Sans", "fill": "#000000"},
      "encoding": {"x": {"datum": 4.2}, "y": {"datum": 0.28}, "text": {"field": "label"}}
    }
  ]
}
